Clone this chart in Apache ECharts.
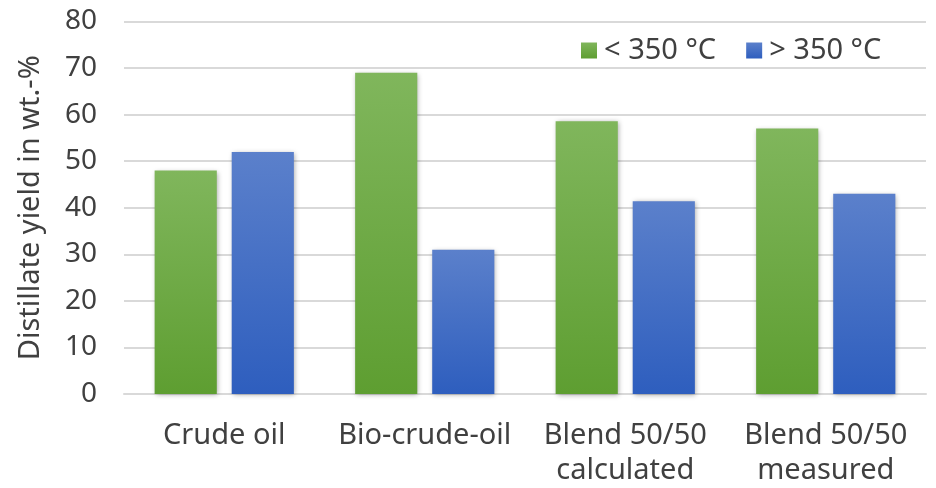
<!DOCTYPE html>
<html>
<head>
<meta charset="utf-8">
<script src="https://cdn.jsdelivr.net/npm/echarts@6/dist/echarts.min.js"></script>
<style>
  html, body { margin: 0; padding: 0; background: #fff; }
  #chart { width: 936px; height: 488px; }
</style>
</head>
<body>
<div id="chart"></div>
<script>
// Distillate yield split at 350 °C for each feed
const categories = ['Crude oil', 'Bio-crude-oil', 'Blend 50/50\ncalculated', 'Blend 50/50\nmeasured'];
const seriesNames = ['< 350 °C', '> 350 °C'];
const below350 = [48, 69, 58.6, 57];
const above350 = [52, 31, 41.4, 43];
const yTicks = [0, 10, 20, 30, 40, 50, 60, 70, 80];

const FONT = '"Noto Sans", "Open Sans", sans-serif';
const TEXT = '#404040';
const FS = 29;

function grad(top, bottom) {
  return new echarts.graphic.LinearGradient(0, 0, 0, 1, [
    { offset: 0, color: top },
    { offset: 1, color: bottom }
  ]);
}
const greenFill = grad('#80b65c', '#5e9e31');
const blueFill = grad('#5b80cb', '#2e5ebe');

const barStyle = (fill) => ({
  color: fill,
  shadowColor: 'rgba(0,0,0,0.35)',
  shadowBlur: 5,
  shadowOffsetX: 1,
  shadowOffsetY: 1
});

const chart = echarts.init(document.getElementById('chart'), null, { renderer: 'canvas' });
chart.setOption({
  animation: false,
  backgroundColor: '#fff',
  textStyle: { fontFamily: FONT },
  grid: { left: 124, right: 10, top: 21.5, bottom: 90.5, containLabel: false },
  legend: {
    data: seriesNames,
    top: 31,
    left: 576,
    itemWidth: 16,
    itemHeight: 16,
    itemGap: 30,
    textStyle: { fontFamily: FONT, fontSize: FS, color: TEXT, padding: [0, 0, 0, 2] },
    icon: 'rect'
  },
  xAxis: {
    type: 'category',
    data: categories,
    axisTick: { show: false },
    axisLine: { lineStyle: { color: '#d9d9d9', width: 2 } },
    axisLabel: {
      fontFamily: FONT, fontSize: FS, color: TEXT,
      margin: 24, lineHeight: 35, interval: 0
    }
  },
  yAxis: {
    type: 'value',
    min: yTicks[0],
    max: yTicks[yTicks.length - 1],
    interval: 10,
    name: 'Distillate yield in wt.-%',
    nameLocation: 'middle',
    nameGap: 79,
    nameTextStyle: { fontFamily: FONT, fontSize: FS, color: TEXT },
    axisLine: { show: false },
    axisTick: { show: false },
    splitLine: { lineStyle: { color: '#d9d9d9', width: 2 } },
    axisLabel: { fontFamily: FONT, fontSize: FS - 1, color: TEXT, margin: 27 }
  },
  series: [
    {
      name: seriesNames[0],
      type: 'bar',
      data: below350,
      barWidth: '31%',
      barGap: '24%',
      itemStyle: barStyle(greenFill)
    },
    {
      name: seriesNames[1],
      type: 'bar',
      data: above350,
      barWidth: '31%',
      barGap: '24%',
      itemStyle: barStyle(blueFill)
    }
  ]
});
</script>
</body>
</html>
